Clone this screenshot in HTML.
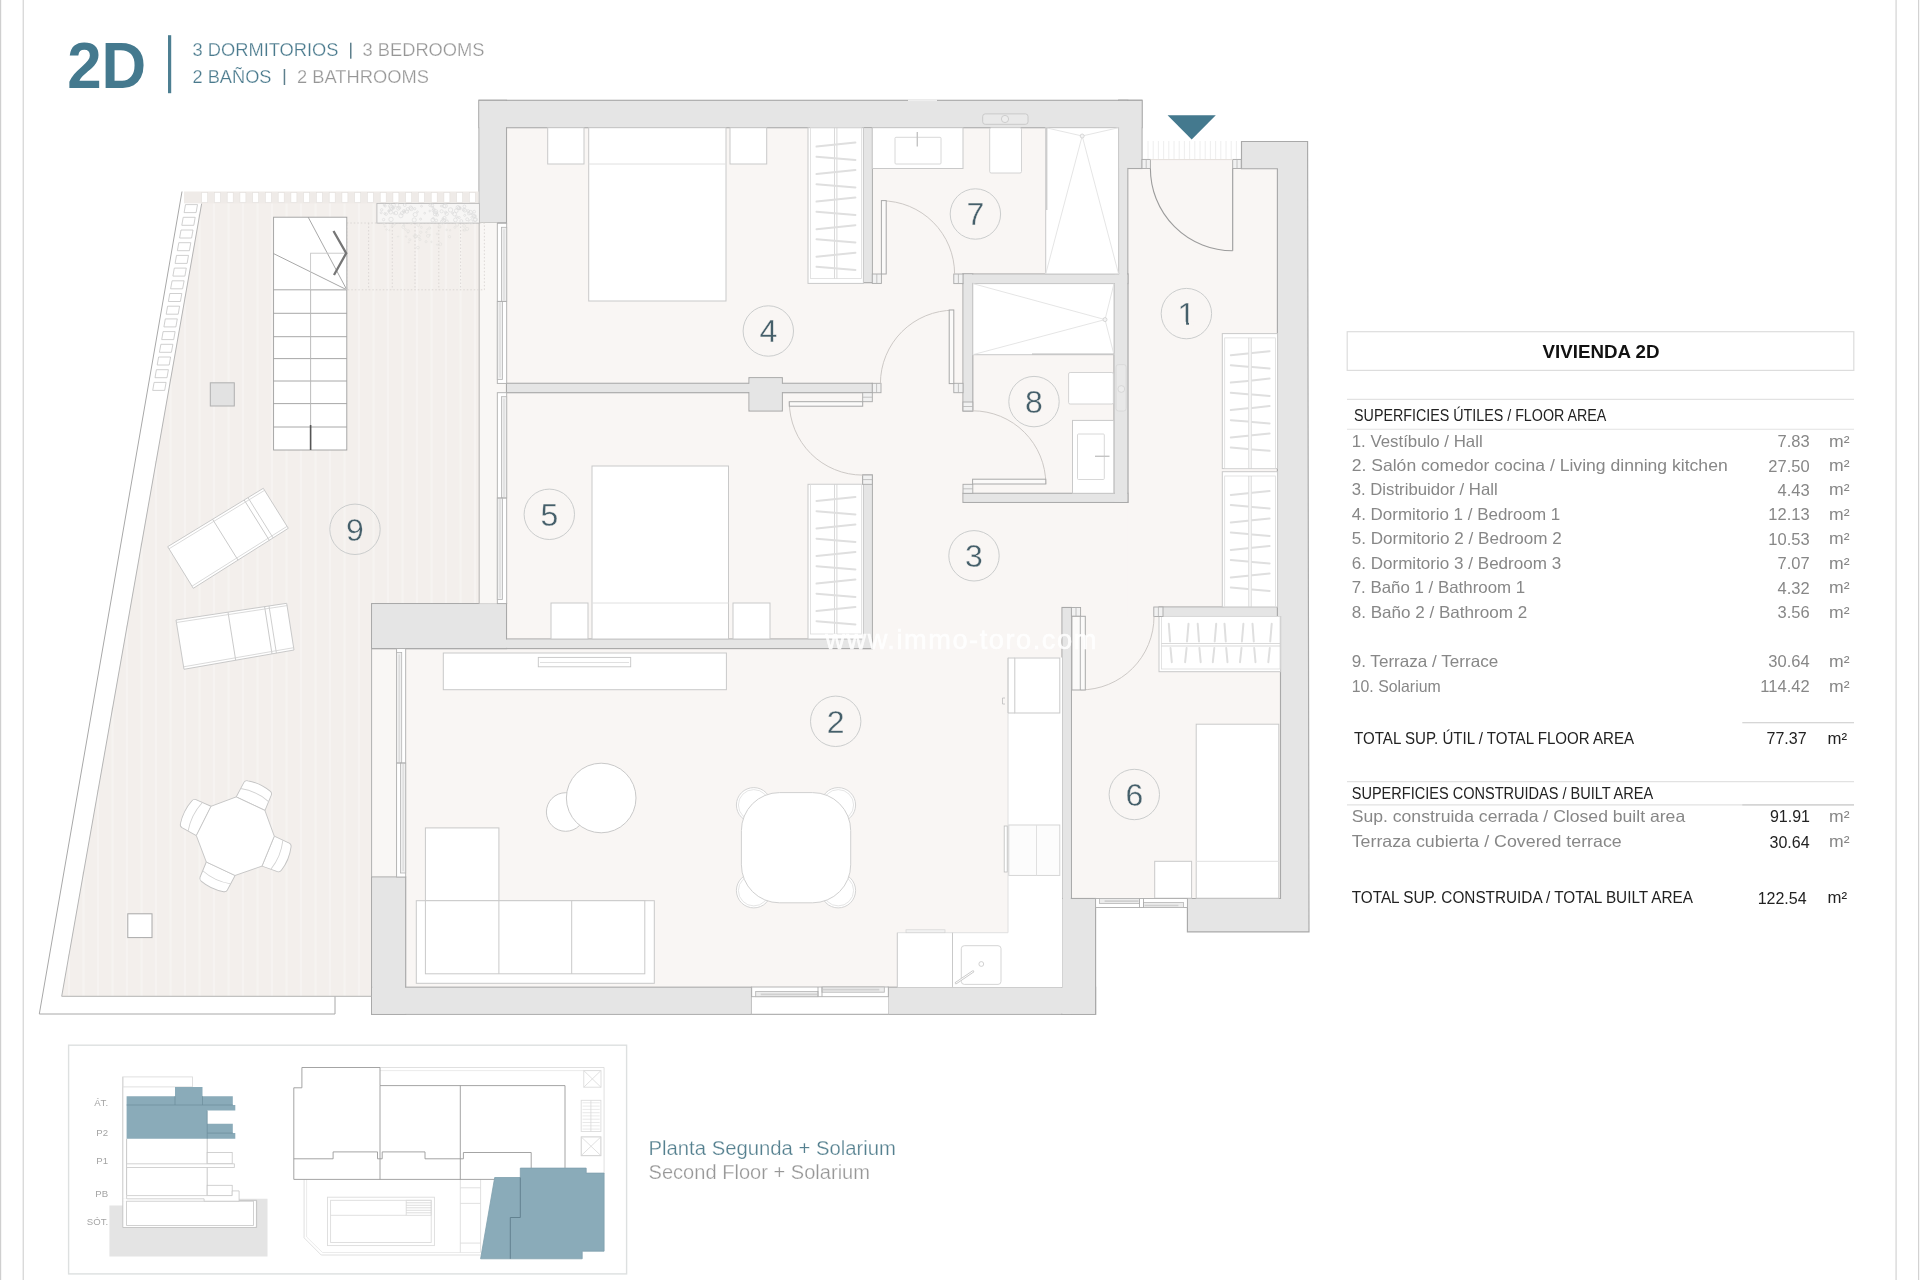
<!DOCTYPE html>
<html lang="es"><head><meta charset="utf-8"><title>Vivienda 2D</title>
<style>
html,body{margin:0;padding:0;background:#fff;}
body{width:1920px;height:1280px;overflow:hidden;font-family:"Liberation Sans",sans-serif;}
svg{display:block;position:absolute;left:0;top:0;}
#all{filter:opacity(1);}
svg text{font-family:"Liberation Sans",sans-serif;}
.w{fill:#e5e5e5;stroke:#a9a9a9;stroke-width:1.15;}
.wf{fill:#e5e5e5;stroke:none;}
.f{fill:#fff;stroke:#c9c9c9;stroke-width:1;}
.l{fill:none;stroke:#c9c9c9;stroke-width:1;}
.ll{fill:none;stroke:#e0e0e0;stroke-width:1;}
.d{fill:none;stroke:#cdc9c6;stroke-width:1;}
.dl{fill:#fbfaf9;stroke:#a9a9a9;stroke-width:1;}
.j{fill:#f1f1f1;stroke:#a9a9a9;stroke-width:0.9;}
.win{fill:#fbfbfb;stroke:#ababab;stroke-width:0.9;}
.hg{fill:none;stroke:#dfdfdf;stroke-width:2;stroke-linecap:round;}
.num{font-size:32px;fill:#455f6a;text-anchor:middle;stroke:#f7f4f2;stroke-width:0.35px;}
.nc{fill:none;stroke:#cbcdcd;stroke-width:1;}
.tg{font-size:16.5px;fill:#878787;}
.tb{font-size:16px;fill:#222;}
.tn{text-anchor:end;}
</style></head><body>
<svg width="1920" height="1280" viewBox="0 0 1920 1280">
<g id="all">

<g id="frame">
<rect x="0" y="0" width="1.2" height="1280" fill="#cfcfcf"/>
<rect x="22.6" y="0" width="1.3" height="1280" fill="#d6d6d6"/>
<rect x="1895.3" y="0" width="1.6" height="1280" fill="#dedede"/>
<rect x="1918" y="0" width="1.2" height="1280" fill="#d2d2d2"/>
</g>
<g id="header">
<text x="67.2" y="88.4" font-size="64" font-weight="bold" fill="#44798e" textLength="79" lengthAdjust="spacingAndGlyphs">2D</text>
<rect x="168" y="35.2" width="3.2" height="58" fill="#4d7f92"/>
<text x="192.5" y="56.4" font-size="18.2" fill="#4a7a8d" stroke="#fff" stroke-width="0.25" textLength="146" lengthAdjust="spacingAndGlyphs">3 DORMITORIOS</text>
<rect x="350" y="42.7" width="1.5" height="16" fill="#5d7f8c"/>
<text x="362.5" y="56.4" font-size="18.2" fill="#979797" stroke="#fff" stroke-width="0.25" textLength="122" lengthAdjust="spacingAndGlyphs">3 BEDROOMS</text>
<text x="192.5" y="82.6" font-size="18.2" fill="#4a7a8d" stroke="#fff" stroke-width="0.25" textLength="79" lengthAdjust="spacingAndGlyphs">2 BAÑOS</text>
<rect x="283.7" y="69" width="1.5" height="16" fill="#5d7f8c"/>
<text x="297" y="82.6" font-size="18.2" fill="#979797" stroke="#fff" stroke-width="0.25" textLength="132" lengthAdjust="spacingAndGlyphs">2 BATHROOMS</text>
</g>
<g id="floors">
<polygon points="201.7,201.7 479,201.7 479,222.7 497,222.7 497,603.6 371.6,603.6 371.6,996.3 61.7,996.3" fill="#f3efec"/>
<g stroke="#f6f3f1" stroke-width="2.2">
<line x1="69" y1="954.4" x2="69" y2="996.3" class=""/>
<line x1="83.5" y1="872.1" x2="83.5" y2="996.3" class=""/>
<line x1="98" y1="789.9" x2="98" y2="996.3" class=""/>
<line x1="112.5" y1="707.7" x2="112.5" y2="996.3" class=""/>
<line x1="127" y1="625.4" x2="127" y2="996.3" class=""/>
<line x1="141.5" y1="543.2" x2="141.5" y2="996.3" class=""/>
<line x1="156" y1="460.9" x2="156" y2="996.3" class=""/>
<line x1="170.5" y1="378.7" x2="170.5" y2="996.3" class=""/>
<line x1="185" y1="296.4" x2="185" y2="996.3" class=""/>
<line x1="199.5" y1="214.2" x2="199.5" y2="996.3" class=""/>
<line x1="214" y1="201.7" x2="214" y2="996.3" class=""/>
<line x1="228.5" y1="201.7" x2="228.5" y2="996.3" class=""/>
<line x1="243" y1="201.7" x2="243" y2="996.3" class=""/>
<line x1="257.5" y1="201.7" x2="257.5" y2="996.3" class=""/>
<line x1="272" y1="201.7" x2="272" y2="996.3" class=""/>
<line x1="286.5" y1="201.7" x2="286.5" y2="996.3" class=""/>
<line x1="301" y1="201.7" x2="301" y2="996.3" class=""/>
<line x1="315.5" y1="201.7" x2="315.5" y2="996.3" class=""/>
<line x1="330" y1="201.7" x2="330" y2="996.3" class=""/>
<line x1="344.5" y1="201.7" x2="344.5" y2="996.3" class=""/>
<line x1="359" y1="201.7" x2="359" y2="996.3" class=""/>
<line x1="373.5" y1="201.7" x2="373.5" y2="603.6" class=""/>
<line x1="388" y1="201.7" x2="388" y2="603.6" class=""/>
<line x1="402.5" y1="201.7" x2="402.5" y2="603.6" class=""/>
<line x1="417" y1="201.7" x2="417" y2="603.6" class=""/>
<line x1="431.5" y1="201.7" x2="431.5" y2="603.6" class=""/>
<line x1="446" y1="201.7" x2="446" y2="603.6" class=""/>
<line x1="460.5" y1="201.7" x2="460.5" y2="603.6" class=""/>
<line x1="475" y1="201.7" x2="475" y2="603.6" class=""/>
<line x1="489.5" y1="222.7" x2="489.5" y2="603.6" class=""/>
</g>
<rect x="506.5" y="127.7" width="612.1" height="520.9" fill="#f9f6f4"/>
<rect x="872" y="283" width="406" height="365.6" fill="#f9f6f4"/>
<rect x="1127.8" y="168.5" width="150.2" height="451.5" fill="#f9f6f4"/>
<rect x="1150" y="159.4" width="83" height="9.6" fill="#f9f6f4"/>
<rect x="405.7" y="648.6" width="656.3" height="338.6" fill="#f9f6f4"/>
<rect x="1071" y="616.5" width="210" height="282" fill="#f9f6f4"/>
<rect x="371.6" y="648.6" width="34.1" height="228.4" fill="#f9f7f5"/>
<rect x="497" y="222.7" width="9.5" height="380.9" fill="#f9f7f5"/>
</g>
<g id="walls">
<rect x="479" y="100.3" width="663" height="27.4" class="w"/>
<rect x="479" y="100.3" width="27.5" height="122.4" class="w"/>
<rect x="1118.6" y="100.3" width="23.4" height="68.2" class="w"/>
<rect x="1118.6" y="100.3" width="9.2" height="402.1" class="w"/>
<rect x="1114" y="274" width="13.8" height="228.4" class="w"/>
<rect x="963" y="274" width="164.8" height="9.6" class="w"/>
<rect x="963" y="274" width="9.8" height="137" class="w"/>
<rect x="963" y="493.3" width="164.8" height="9.1" class="w"/>
<rect x="862.7" y="127.7" width="9.6" height="155" class="w"/>
<rect x="506.5" y="383.3" width="365.8" height="9.4" class="w"/>
<rect x="749" y="377.7" width="33.3" height="33.3" class="w"/>
<rect x="862.7" y="475" width="9.6" height="173.6" class="w"/>
<rect x="371.6" y="639" width="500.7" height="9.6" class="w"/>
<rect x="371.6" y="603.6" width="134.9" height="45" class="w"/>
<rect x="371.6" y="877" width="34.1" height="137.3" class="w"/>
<rect x="371.6" y="987.2" width="379.8" height="27.1" class="w"/>
<rect x="888.2" y="987.2" width="207.4" height="27.1" class="w"/>
<rect x="1062" y="607.5" width="9.4" height="406.8" class="w"/>
<rect x="1062" y="898.5" width="33.6" height="115.8" class="w"/>
<rect x="1159" y="607" width="123" height="9.5" class="w"/>
<rect x="479.6" y="101" width="661.7" height="26.1" class="wf"/>
<rect x="479.6" y="101" width="26.2" height="121.1" class="wf"/>
<rect x="1119.2" y="101" width="22.1" height="66.9" class="wf"/>
<rect x="1119.2" y="101" width="7.9" height="400.8" class="wf"/>
<rect x="1114.7" y="274.6" width="12.5" height="227.1" class="wf"/>
<rect x="963.6" y="274.6" width="163.5" height="8.3" class="wf"/>
<rect x="963.6" y="274.6" width="8.5" height="135.7" class="wf"/>
<rect x="963.6" y="493.9" width="163.5" height="7.8" class="wf"/>
<rect x="863.4" y="128.3" width="8.3" height="153.7" class="wf"/>
<rect x="507.1" y="383.9" width="364.5" height="8.1" class="wf"/>
<rect x="749.6" y="378.3" width="32" height="32" class="wf"/>
<rect x="863.4" y="475.6" width="8.3" height="172.3" class="wf"/>
<rect x="372.2" y="639.6" width="499.4" height="8.3" class="wf"/>
<rect x="372.2" y="604.2" width="133.6" height="43.7" class="wf"/>
<rect x="372.2" y="877.6" width="32.8" height="136" class="wf"/>
<rect x="372.2" y="987.9" width="378.5" height="25.8" class="wf"/>
<rect x="888.9" y="987.9" width="206.1" height="25.8" class="wf"/>
<rect x="1062.7" y="608.1" width="8.1" height="405.5" class="wf"/>
<rect x="1062.7" y="899.1" width="32.3" height="114.5" class="wf"/>
<rect x="1159.7" y="607.6" width="121.7" height="8.2" class="wf"/>
<line x1="908" y1="100.3" x2="937" y2="100.3" class="" stroke="#eeeeee" stroke-width="1.6"/>
<polygon points="1241.5,141.5 1307.6,141.5 1309,931.8 1187.4,931.8 1187.4,898.5 1280.5,898.5 1280.5,616.5 1277.4,616.5 1277.4,168.7 1241.5,168.7" class="w"/>
</g>
<g id="terrace">
<path d="M182,191.5 L39.3,1014 L335,1014 L335,996.3" fill="none" stroke="#a8a8a8" stroke-width="1"/>
<path d="M201.7,203.4 L61.7,996.3 L371.6,996.3" fill="none" stroke="#b5b5b5" stroke-width="1"/>
<rect x="479.4" y="222.7" width="18" height="380.9" fill="#f9f7f5"/>
<line x1="479.2" y1="222.7" x2="479.2" y2="603.6" class="" stroke="#c2bfbd" stroke-width="1.2"/>
<rect x="184" y="191.5" width="294.6" height="11.9" fill="#efebe8"/>
<rect x="201.7" y="192.6" width="6" height="9.8" fill="#fff" stroke="#e3dfdc" stroke-width="0.6"/>
<rect x="214.4" y="192.6" width="6" height="9.8" fill="#fff" stroke="#e3dfdc" stroke-width="0.6"/>
<rect x="227.2" y="192.6" width="6" height="9.8" fill="#fff" stroke="#e3dfdc" stroke-width="0.6"/>
<rect x="239.9" y="192.6" width="6" height="9.8" fill="#fff" stroke="#e3dfdc" stroke-width="0.6"/>
<rect x="252.7" y="192.6" width="6" height="9.8" fill="#fff" stroke="#e3dfdc" stroke-width="0.6"/>
<rect x="265.4" y="192.6" width="6" height="9.8" fill="#fff" stroke="#e3dfdc" stroke-width="0.6"/>
<rect x="278.2" y="192.6" width="6" height="9.8" fill="#fff" stroke="#e3dfdc" stroke-width="0.6"/>
<rect x="290.9" y="192.6" width="6" height="9.8" fill="#fff" stroke="#e3dfdc" stroke-width="0.6"/>
<rect x="303.7" y="192.6" width="6" height="9.8" fill="#fff" stroke="#e3dfdc" stroke-width="0.6"/>
<rect x="316.4" y="192.6" width="6" height="9.8" fill="#fff" stroke="#e3dfdc" stroke-width="0.6"/>
<rect x="329.2" y="192.6" width="6" height="9.8" fill="#fff" stroke="#e3dfdc" stroke-width="0.6"/>
<rect x="341.9" y="192.6" width="6" height="9.8" fill="#fff" stroke="#e3dfdc" stroke-width="0.6"/>
<rect x="354.7" y="192.6" width="6" height="9.8" fill="#fff" stroke="#e3dfdc" stroke-width="0.6"/>
<rect x="367.4" y="192.6" width="6" height="9.8" fill="#fff" stroke="#e3dfdc" stroke-width="0.6"/>
<rect x="380.2" y="192.6" width="6" height="9.8" fill="#fff" stroke="#e3dfdc" stroke-width="0.6"/>
<rect x="392.9" y="192.6" width="6" height="9.8" fill="#fff" stroke="#e3dfdc" stroke-width="0.6"/>
<rect x="405.7" y="192.6" width="6" height="9.8" fill="#fff" stroke="#e3dfdc" stroke-width="0.6"/>
<rect x="418.4" y="192.6" width="6" height="9.8" fill="#fff" stroke="#e3dfdc" stroke-width="0.6"/>
<rect x="431.2" y="192.6" width="6" height="9.8" fill="#fff" stroke="#e3dfdc" stroke-width="0.6"/>
<rect x="443.9" y="192.6" width="6" height="9.8" fill="#fff" stroke="#e3dfdc" stroke-width="0.6"/>
<rect x="456.7" y="192.6" width="6" height="9.8" fill="#fff" stroke="#e3dfdc" stroke-width="0.6"/>
<rect x="469.4" y="192.6" width="6" height="9.8" fill="#fff" stroke="#e3dfdc" stroke-width="0.6"/>
<polygon points="185.5,204.6 197.5,204.6 196.1,212.6 184.1,212.6" fill="#fff" stroke="#c4c4c4" stroke-width="0.8"/>
<polygon points="183.2,217.3 195.2,217.3 193.8,225.3 181.8,225.3" fill="#fff" stroke="#c4c4c4" stroke-width="0.8"/>
<polygon points="181,230 193,230 191.6,238 179.6,238" fill="#fff" stroke="#c4c4c4" stroke-width="0.8"/>
<polygon points="178.8,242.7 190.8,242.7 189.4,250.7 177.4,250.7" fill="#fff" stroke="#c4c4c4" stroke-width="0.8"/>
<polygon points="176.5,255.4 188.5,255.4 187.1,263.4 175.1,263.4" fill="#fff" stroke="#c4c4c4" stroke-width="0.8"/>
<polygon points="174.3,268.1 186.3,268.1 184.9,276.1 172.9,276.1" fill="#fff" stroke="#c4c4c4" stroke-width="0.8"/>
<polygon points="172.1,280.8 184.1,280.8 182.6,288.8 170.6,288.8" fill="#fff" stroke="#c4c4c4" stroke-width="0.8"/>
<polygon points="169.8,293.5 181.8,293.5 180.4,301.5 168.4,301.5" fill="#fff" stroke="#c4c4c4" stroke-width="0.8"/>
<polygon points="167.6,306.2 179.6,306.2 178.2,314.2 166.2,314.2" fill="#fff" stroke="#c4c4c4" stroke-width="0.8"/>
<polygon points="165.3,318.9 177.3,318.9 175.9,326.9 163.9,326.9" fill="#fff" stroke="#c4c4c4" stroke-width="0.8"/>
<polygon points="163.1,331.6 175.1,331.6 173.7,339.6 161.7,339.6" fill="#fff" stroke="#c4c4c4" stroke-width="0.8"/>
<polygon points="160.9,344.3 172.9,344.3 171.4,352.3 159.4,352.3" fill="#fff" stroke="#c4c4c4" stroke-width="0.8"/>
<polygon points="158.6,357 170.6,357 169.2,365 157.2,365" fill="#fff" stroke="#c4c4c4" stroke-width="0.8"/>
<polygon points="156.4,369.7 168.4,369.7 167,377.7 155,377.7" fill="#fff" stroke="#c4c4c4" stroke-width="0.8"/>
<polygon points="154.1,382.4 166.1,382.4 164.7,390.4 152.7,390.4" fill="#fff" stroke="#c4c4c4" stroke-width="0.8"/>
<g stroke="#d9d5d2" stroke-width="0.9" stroke-dasharray="1.5 2" fill="none">
<rect x="346.8" y="223" width="137.6" height="66.8"/>
<line x1="368.6" y1="223" x2="368.6" y2="289.8" class=""/>
<line x1="392.3" y1="223" x2="392.3" y2="289.8" class=""/>
<line x1="415" y1="223" x2="415" y2="289.8" class=""/>
<line x1="438.8" y1="223" x2="438.8" y2="289.8" class=""/>
<line x1="460.6" y1="223" x2="460.6" y2="289.8" class=""/>
</g>
<rect x="376.9" y="203.4" width="102.5" height="19.7" fill="#f7f6f5" stroke="#bbbbbb" stroke-width="0.9"/>
<g fill="none" stroke="#dddddd" stroke-width="0.7">
<circle cx="410.7" cy="207.6" r="1.7"/>
<circle cx="386.1" cy="214.1" r="1.3"/>
<circle cx="384.7" cy="213.6" r="0.9"/>
<circle cx="421.5" cy="206.2" r="0.9"/>
<circle cx="420.6" cy="219.1" r="1"/>
<circle cx="400.9" cy="215.7" r="2.1"/>
<circle cx="435.6" cy="211.7" r="2.2"/>
<circle cx="383.6" cy="219.6" r="1.2"/>
<circle cx="393.1" cy="207" r="1.2"/>
<circle cx="459" cy="208.1" r="1.6"/>
<circle cx="441.6" cy="211.3" r="1.6"/>
<circle cx="385.2" cy="206" r="1.1"/>
<circle cx="445.7" cy="212.3" r="1.2"/>
<circle cx="436.4" cy="212.7" r="1.2"/>
<circle cx="456.8" cy="216.9" r="1.1"/>
<circle cx="435.3" cy="213.9" r="2"/>
<circle cx="450.5" cy="209.9" r="2.2"/>
<circle cx="390.6" cy="212.1" r="1.9"/>
<circle cx="393.9" cy="213.3" r="0.9"/>
<circle cx="444.5" cy="218" r="1.6"/>
<circle cx="464.8" cy="210.3" r="1.8"/>
<circle cx="437.2" cy="214.9" r="1.4"/>
<circle cx="461.3" cy="221.1" r="1.5"/>
<circle cx="444.1" cy="206" r="1.8"/>
<circle cx="442.4" cy="221.9" r="2"/>
<circle cx="406.9" cy="211.6" r="1.7"/>
<circle cx="381.2" cy="212.8" r="1"/>
<circle cx="390.5" cy="206" r="1.9"/>
<circle cx="391.7" cy="209.2" r="1.3"/>
<circle cx="464.4" cy="206.4" r="1.4"/>
<circle cx="432.8" cy="220" r="1.9"/>
<circle cx="463.7" cy="209.7" r="1.4"/>
<circle cx="414.2" cy="220" r="2.1"/>
<circle cx="393.8" cy="208" r="1.1"/>
<circle cx="401.9" cy="213.2" r="1.6"/>
<circle cx="404.7" cy="205.1" r="1.4"/>
<circle cx="415.2" cy="214.6" r="2.1"/>
<circle cx="446.7" cy="213.8" r="1.7"/>
<circle cx="445.3" cy="205.9" r="2.1"/>
<circle cx="455.4" cy="219.9" r="1.9"/>
<circle cx="417.5" cy="211.8" r="0.9"/>
<circle cx="441.2" cy="206.1" r="0.9"/>
<circle cx="399.5" cy="207.8" r="1.3"/>
<circle cx="384.2" cy="205" r="1"/>
<circle cx="388.9" cy="211.2" r="0.8"/>
<circle cx="464.7" cy="215.4" r="1"/>
<circle cx="403.7" cy="210.9" r="1.3"/>
<circle cx="391" cy="219.4" r="2.2"/>
<circle cx="424.7" cy="213.2" r="0.9"/>
<circle cx="389" cy="210.8" r="1.2"/>
<circle cx="460.2" cy="207.7" r="0.8"/>
<circle cx="472.2" cy="214" r="1"/>
<circle cx="432.2" cy="205.5" r="1.5"/>
<circle cx="474.9" cy="219.7" r="1.8"/>
<circle cx="404.6" cy="211.2" r="1"/>
<circle cx="454.6" cy="214.1" r="1.9"/>
<circle cx="411.3" cy="208.8" r="1.9"/>
<circle cx="475.5" cy="219.5" r="1.9"/>
<circle cx="459.2" cy="217.6" r="1.1"/>
<circle cx="429.7" cy="211" r="0.8"/>
<circle cx="381.7" cy="209.8" r="1.2"/>
<circle cx="446.9" cy="221.3" r="1.4"/>
<circle cx="470.8" cy="221.8" r="2.1"/>
<circle cx="414.7" cy="208.7" r="1.1"/>
<circle cx="398.3" cy="208.5" r="1.7"/>
<circle cx="467.2" cy="219.3" r="1.5"/>
<circle cx="443" cy="218.6" r="0.9"/>
<circle cx="443.7" cy="220.5" r="1.9"/>
<circle cx="452.5" cy="213.1" r="1"/>
<circle cx="456.3" cy="210.7" r="1.9"/>
<circle cx="474.2" cy="211.7" r="1.4"/>
<circle cx="471.8" cy="217.3" r="1"/>
<circle cx="391.4" cy="207.6" r="2.1"/>
<circle cx="458" cy="207.5" r="2"/>
<circle cx="475.1" cy="216.2" r="1.3"/>
<circle cx="432.8" cy="207.2" r="0.8"/>
<circle cx="474.1" cy="216" r="1.5"/>
<circle cx="470.5" cy="212.4" r="2"/>
<circle cx="460" cy="208.6" r="1.2"/>
<circle cx="407.7" cy="209.1" r="1.6"/>
<circle cx="404.4" cy="212.1" r="1"/>
<circle cx="468.2" cy="211" r="1.4"/>
<circle cx="436.2" cy="220.4" r="1.4"/>
<circle cx="468.9" cy="213.5" r="1.5"/>
<circle cx="430.3" cy="205.3" r="1.4"/>
<circle cx="396.9" cy="205.1" r="1.9"/>
<circle cx="395.9" cy="213" r="1.8"/>
<circle cx="433.5" cy="210.5" r="1.5"/>
<circle cx="433.4" cy="218.3" r="0.9"/>
<circle cx="433.9" cy="209.2" r="1.2"/>
<circle cx="449.5" cy="236.7" r="1.2" stroke="#e4e2e0"/>
<circle cx="419.9" cy="239.5" r="1.1" stroke="#e4e2e0"/>
<circle cx="426.1" cy="241.7" r="1.1" stroke="#e4e2e0"/>
<circle cx="428" cy="235.9" r="1.5" stroke="#e4e2e0"/>
<circle cx="464.8" cy="230" r="1.2" stroke="#e4e2e0"/>
<circle cx="392.3" cy="226.3" r="1" stroke="#e4e2e0"/>
<circle cx="386.5" cy="229.5" r="0.7" stroke="#e4e2e0"/>
<circle cx="440.3" cy="244.2" r="1.5" stroke="#e4e2e0"/>
<circle cx="439.4" cy="226.9" r="1.5" stroke="#e4e2e0"/>
<circle cx="467.1" cy="228.9" r="1.6" stroke="#e4e2e0"/>
<circle cx="415.8" cy="236.2" r="1.6" stroke="#e4e2e0"/>
<circle cx="454.9" cy="227.4" r="1" stroke="#e4e2e0"/>
<circle cx="426.4" cy="232.2" r="0.8" stroke="#e4e2e0"/>
<circle cx="408.7" cy="242.5" r="0.6" stroke="#e4e2e0"/>
<circle cx="429.9" cy="234.9" r="0.6" stroke="#e4e2e0"/>
<circle cx="409.8" cy="239.8" r="1.1" stroke="#e4e2e0"/>
<circle cx="389.4" cy="230.2" r="0.6" stroke="#e4e2e0"/>
<circle cx="450.1" cy="230.3" r="0.7" stroke="#e4e2e0"/>
<circle cx="418" cy="247.6" r="1.4" stroke="#e4e2e0"/>
<circle cx="403.3" cy="227" r="1.5" stroke="#e4e2e0"/>
<circle cx="431.4" cy="241.9" r="0.7" stroke="#e4e2e0"/>
<circle cx="418.3" cy="225" r="1.5" stroke="#e4e2e0"/>
<circle cx="437.1" cy="244.6" r="0.7" stroke="#e4e2e0"/>
<circle cx="457.1" cy="224.8" r="1.5" stroke="#e4e2e0"/>
<circle cx="420.8" cy="232.2" r="1.2" stroke="#e4e2e0"/>
<circle cx="463.4" cy="230.2" r="0.7" stroke="#e4e2e0"/>
<circle cx="427.4" cy="229.4" r="0.7" stroke="#e4e2e0"/>
<circle cx="394.5" cy="224.4" r="0.8" stroke="#e4e2e0"/>
<circle cx="408.1" cy="231.2" r="1.4" stroke="#e4e2e0"/>
<circle cx="406.1" cy="236.5" r="0.8" stroke="#e4e2e0"/>
<circle cx="411.2" cy="223.5" r="0.9" stroke="#e4e2e0"/>
<circle cx="429.6" cy="228.1" r="1.1" stroke="#e4e2e0"/>
<circle cx="464.1" cy="225.9" r="1.4" stroke="#e4e2e0"/>
<circle cx="418.9" cy="236.4" r="1.4" stroke="#e4e2e0"/>
<circle cx="415.4" cy="236.7" r="1.3" stroke="#e4e2e0"/>
<circle cx="437.2" cy="233.9" r="0.9" stroke="#e4e2e0"/>
<circle cx="384.9" cy="226.5" r="0.7" stroke="#e4e2e0"/>
<circle cx="446.7" cy="229.9" r="0.8" stroke="#e4e2e0"/>
<circle cx="405.4" cy="229.5" r="0.9" stroke="#e4e2e0"/>
<circle cx="421.4" cy="227.3" r="1" stroke="#e4e2e0"/>
<circle cx="407.9" cy="232.6" r="0.6" stroke="#e4e2e0"/>
<circle cx="414.3" cy="235.8" r="1.1" stroke="#e4e2e0"/>
<circle cx="398.1" cy="236.6" r="0.6" stroke="#e4e2e0"/>
<circle cx="403.8" cy="225.4" r="1" stroke="#e4e2e0"/>
<circle cx="383.8" cy="223.6" r="0.9" stroke="#e4e2e0"/>
</g>
<g fill="none" stroke="#9e9e9e" stroke-width="0.9">
<rect x="273.6" y="217.2" width="73.2" height="232.8" fill="#fff"/>
<line x1="273.6" y1="289.8" x2="346.8" y2="289.8" class=""/>
<line x1="273.6" y1="313.3" x2="346.8" y2="313.3" class=""/>
<line x1="273.6" y1="336.7" x2="346.8" y2="336.7" class=""/>
<line x1="273.6" y1="358.6" x2="346.8" y2="358.6" class=""/>
<line x1="273.6" y1="381" x2="346.8" y2="381" class=""/>
<line x1="273.6" y1="403.6" x2="346.8" y2="403.6" class=""/>
<line x1="273.6" y1="427" x2="346.8" y2="427" class=""/>
<line x1="346.8" y1="289.8" x2="273.6" y2="253.6" class=""/>
<line x1="346.8" y1="289.8" x2="308.2" y2="217.2" class=""/>
</g>
<rect x="310.6" y="253.2" width="36.2" height="36.6" fill="none" stroke="#c6c6c6" stroke-width="0.9"/>
<line x1="310.6" y1="289.8" x2="310.6" y2="450" class="" stroke="#b5b5b5" stroke-width="0.9"/>
<path d="M333.5,231 L346.2,253.2 L334,275" fill="none" stroke="#767676" stroke-width="2.3" stroke-linejoin="miter"/>
<line x1="310.6" y1="425" x2="310.6" y2="450" class="" stroke="#555" stroke-width="1.6"/>
<rect x="210.3" y="382.8" width="24" height="23.2" fill="#e2e2e2" stroke="#b0b0b0" stroke-width="1"/>
<rect x="127.8" y="913.8" width="24.2" height="23.8" fill="#fff" stroke="#a9a9a9" stroke-width="1"/>
<polygon points="167.7,546.7 263.3,488.3 288.3,528.3 193.3,588.3" fill="#fff" stroke="#c9c9c9" stroke-width="1"/>
<line x1="212.6" y1="519.3" x2="238" y2="560.1" class="" stroke="#c4c4c4" stroke-width="0.9"/>
<line x1="244.2" y1="500" x2="269.3" y2="540.3" class="" stroke="#c4c4c4" stroke-width="0.9"/>
<line x1="248" y1="497.6" x2="273.1" y2="537.9" class="" stroke="#c9c9c9" stroke-width="0.9"/>
<line x1="169" y1="548.8" x2="264.6" y2="490.3" class="" stroke="#d0d0d0" stroke-width="0.8"/>
<line x1="192" y1="586.2" x2="287.1" y2="526.3" class="" stroke="#d0d0d0" stroke-width="0.8"/>
<polygon points="176,620 286.7,603.3 294,650 184,669.3" fill="#fff" stroke="#c9c9c9" stroke-width="1"/>
<line x1="228" y1="612.2" x2="235.7" y2="660.2" class="" stroke="#c4c4c4" stroke-width="0.9"/>
<line x1="264.6" y1="606.6" x2="272" y2="653.9" class="" stroke="#c4c4c4" stroke-width="0.9"/>
<line x1="269" y1="606" x2="276.4" y2="653.1" class="" stroke="#c9c9c9" stroke-width="0.9"/>
<line x1="176.4" y1="622.5" x2="287.1" y2="605.6" class="" stroke="#d0d0d0" stroke-width="0.8"/>
<line x1="183.6" y1="666.8" x2="293.6" y2="647.7" class="" stroke="#d0d0d0" stroke-width="0.8"/>
<g transform="translate(250.6 803.7) rotate(25.1)">
<path d="M-15.9,0 L-15.1,-16.5 Q-14.9,-19 -12.4,-19.6 Q0,-23 12.4,-19.6 Q14.9,-19 15.1,-16.5 L15.9,0 Z" fill="#fff" stroke="#c3c3c3" stroke-width="0.9"/>
<path d="M-15.4,-9.5 Q0,-14 15.4,-9.5" fill="none" stroke="#d2d2d2" stroke-width="0.9"/>
</g>
<g transform="translate(268.1 851.1) rotate(112.4)">
<path d="M-16.2,0 L-15.4,-16.5 Q-15.2,-19 -12.7,-19.6 Q0,-23 12.7,-19.6 Q15.2,-19 15.4,-16.5 L16.2,0 Z" fill="#fff" stroke="#c3c3c3" stroke-width="0.9"/>
<path d="M-15.7,-9.5 Q0,-14 15.7,-9.5" fill="none" stroke="#d2d2d2" stroke-width="0.9"/>
</g>
<g transform="translate(220.7 868.7) rotate(-154.9)">
<path d="M-15.9,0 L-15.1,-16.5 Q-14.9,-19 -12.4,-19.6 Q0,-23 12.4,-19.6 Q14.9,-19 15.1,-16.5 L15.9,0 Z" fill="#fff" stroke="#c3c3c3" stroke-width="0.9"/>
<path d="M-15.4,-9.5 Q0,-14 15.4,-9.5" fill="none" stroke="#d2d2d2" stroke-width="0.9"/>
</g>
<g transform="translate(203.7 821) rotate(-63.4)">
<path d="M-16.4,0 L-15.6,-16.5 Q-15.4,-19 -12.9,-19.6 Q0,-23 12.9,-19.6 Q15.4,-19 15.6,-16.5 L16.4,0 Z" fill="#fff" stroke="#c3c3c3" stroke-width="0.9"/>
<path d="M-15.9,-9.5 Q0,-14 15.9,-9.5" fill="none" stroke="#d2d2d2" stroke-width="0.9"/>
</g>
<polygon points="211,806.3 236.2,796.9 264.9,810.4 274.3,836.2 262,866.1 235,875.5 206.3,862 196.3,835.6" fill="#fff" stroke="#c8c8c8" stroke-width="1"/>
</g>
<g id="interior">
<rect x="547.7" y="127.7" width="36.3" height="36.3" class="f"/>
<rect x="730" y="127.7" width="36.7" height="36.3" class="f"/>
<rect x="588.7" y="127.7" width="137.3" height="173.3" class="f"/>
<line x1="588.7" y1="164" x2="726" y2="164" class="ll"/>
<rect x="808" y="127.7" width="55.4" height="155.7" class="f"/>
<rect x="810.4" y="127.7" width="51" height="150.7" fill="none" stroke="#dcdcdc" stroke-width="0.8"/>
<line x1="834.5" y1="127.7" x2="834.5" y2="278.4" class="" stroke="#cfcfcf" stroke-width="0.8"/>
<line x1="836.9" y1="127.7" x2="836.9" y2="278.4" class="" stroke="#cfcfcf" stroke-width="0.8"/>
<g class="hg">
<line x1="816.5" y1="146.6" x2="855.4" y2="142.6" class=""/>
<line x1="816.5" y1="156.8" x2="855.4" y2="160" class=""/>
<line x1="816.5" y1="174.1" x2="855.4" y2="170.1" class=""/>
<line x1="816.5" y1="184.3" x2="855.4" y2="187.5" class=""/>
<line x1="816.5" y1="201.6" x2="855.4" y2="197.6" class=""/>
<line x1="816.5" y1="211.8" x2="855.4" y2="215" class=""/>
<line x1="816.5" y1="229.2" x2="855.4" y2="225.2" class=""/>
<line x1="816.5" y1="239.3" x2="855.4" y2="242.5" class=""/>
<line x1="816.5" y1="256.7" x2="855.4" y2="252.7" class=""/>
<line x1="816.5" y1="266.8" x2="855.4" y2="270" class=""/>
</g>
<rect x="592" y="466" width="136.5" height="173" class="f"/>
<line x1="592" y1="603" x2="728.5" y2="603" class="ll"/>
<rect x="551" y="603" width="37" height="36" class="f"/>
<rect x="733" y="603" width="37" height="36" class="f"/>
<rect x="808" y="484.3" width="55.4" height="154.7" class="f"/>
<rect x="810.4" y="484.3" width="51" height="149.7" fill="none" stroke="#dcdcdc" stroke-width="0.8"/>
<line x1="834.5" y1="484.3" x2="834.5" y2="634" class="" stroke="#cfcfcf" stroke-width="0.8"/>
<line x1="836.9" y1="484.3" x2="836.9" y2="634" class="" stroke="#cfcfcf" stroke-width="0.8"/>
<g class="hg">
<line x1="816.5" y1="501" x2="855.4" y2="497" class=""/>
<line x1="816.5" y1="511.2" x2="855.4" y2="514.4" class=""/>
<line x1="816.5" y1="528.5" x2="855.4" y2="524.5" class=""/>
<line x1="816.5" y1="538.7" x2="855.4" y2="541.9" class=""/>
<line x1="816.5" y1="556" x2="855.4" y2="552" class=""/>
<line x1="816.5" y1="566.2" x2="855.4" y2="569.4" class=""/>
<line x1="816.5" y1="583.6" x2="855.4" y2="579.6" class=""/>
<line x1="816.5" y1="593.7" x2="855.4" y2="596.9" class=""/>
<line x1="816.5" y1="611.1" x2="855.4" y2="607.1" class=""/>
<line x1="816.5" y1="621.2" x2="855.4" y2="624.4" class=""/>
</g>
<rect x="1222.3" y="333.6" width="55.3" height="135" class="f"/>
<rect x="1224.7" y="337.9" width="50.9" height="130.7" fill="none" stroke="#dcdcdc" stroke-width="0.8"/>
<line x1="1248.8" y1="337.9" x2="1248.8" y2="468.6" class="" stroke="#cfcfcf" stroke-width="0.8"/>
<line x1="1251.2" y1="337.9" x2="1251.2" y2="468.6" class="" stroke="#cfcfcf" stroke-width="0.8"/>
<g class="hg">
<line x1="1230.8" y1="355.2" x2="1247.8" y2="353.4" class=""/>
<line x1="1252.2" y1="353" x2="1269.6" y2="351.2" class=""/>
<line x1="1230.8" y1="365.3" x2="1247.8" y2="366.7" class=""/>
<line x1="1252.2" y1="367.1" x2="1269.6" y2="368.5" class=""/>
<line x1="1230.8" y1="382.6" x2="1247.8" y2="380.9" class=""/>
<line x1="1252.2" y1="380.4" x2="1269.6" y2="378.6" class=""/>
<line x1="1230.8" y1="392.8" x2="1247.8" y2="394.2" class=""/>
<line x1="1252.2" y1="394.5" x2="1269.6" y2="396" class=""/>
<line x1="1230.8" y1="410.1" x2="1247.8" y2="408.3" class=""/>
<line x1="1252.2" y1="407.9" x2="1269.6" y2="406.1" class=""/>
<line x1="1230.8" y1="420.2" x2="1247.8" y2="421.6" class=""/>
<line x1="1252.2" y1="422" x2="1269.6" y2="423.4" class=""/>
<line x1="1230.8" y1="437.5" x2="1247.8" y2="435.8" class=""/>
<line x1="1252.2" y1="435.3" x2="1269.6" y2="433.5" class=""/>
<line x1="1230.8" y1="447.6" x2="1247.8" y2="449" class=""/>
<line x1="1252.2" y1="449.4" x2="1269.6" y2="450.8" class=""/>
</g>
<rect x="1222.3" y="471.7" width="55.3" height="135.3" class="f"/>
<rect x="1224.7" y="476" width="50.9" height="131" fill="none" stroke="#dcdcdc" stroke-width="0.8"/>
<line x1="1248.8" y1="476" x2="1248.8" y2="607" class="" stroke="#cfcfcf" stroke-width="0.8"/>
<line x1="1251.2" y1="476" x2="1251.2" y2="607" class="" stroke="#cfcfcf" stroke-width="0.8"/>
<g class="hg">
<line x1="1230.8" y1="495" x2="1247.8" y2="493.2" class=""/>
<line x1="1252.2" y1="492.8" x2="1269.6" y2="491" class=""/>
<line x1="1230.8" y1="505.1" x2="1247.8" y2="506.6" class=""/>
<line x1="1252.2" y1="506.9" x2="1269.6" y2="508.4" class=""/>
<line x1="1230.8" y1="522.5" x2="1247.8" y2="520.7" class=""/>
<line x1="1252.2" y1="520.3" x2="1269.6" y2="518.5" class=""/>
<line x1="1230.8" y1="532.6" x2="1247.8" y2="534.1" class=""/>
<line x1="1252.2" y1="534.4" x2="1269.6" y2="535.9" class=""/>
<line x1="1230.8" y1="550" x2="1247.8" y2="548.2" class=""/>
<line x1="1252.2" y1="547.8" x2="1269.6" y2="546" class=""/>
<line x1="1230.8" y1="560.1" x2="1247.8" y2="561.6" class=""/>
<line x1="1252.2" y1="561.9" x2="1269.6" y2="563.4" class=""/>
<line x1="1230.8" y1="577.5" x2="1247.8" y2="575.7" class=""/>
<line x1="1252.2" y1="575.3" x2="1269.6" y2="573.5" class=""/>
<line x1="1230.8" y1="587.6" x2="1247.8" y2="589.1" class=""/>
<line x1="1252.2" y1="589.4" x2="1269.6" y2="590.9" class=""/>
</g>
<rect x="1159" y="616.5" width="121.6" height="55.2" class="f"/>
<rect x="1161.5" y="616.5" width="118.5" height="52.5" fill="none" stroke="#dcdcdc" stroke-width="0.8"/>
<line x1="1161.5" y1="643.5" x2="1280" y2="643.5" class="" stroke="#cfcfcf" stroke-width="0.8"/>
<line x1="1161.5" y1="646" x2="1280" y2="646" class="" stroke="#cfcfcf" stroke-width="0.8"/>
<g class="hg">
<line x1="1168.8" y1="623.8" x2="1170.1" y2="641.5" class=""/>
<line x1="1170.5" y1="648" x2="1171.8" y2="662.2" class=""/>
<line x1="1188.5" y1="623.8" x2="1187" y2="641.5" class=""/>
<line x1="1186.6" y1="648" x2="1185.1" y2="662.2" class=""/>
<line x1="1197.7" y1="623.8" x2="1199" y2="641.5" class=""/>
<line x1="1199.4" y1="648" x2="1200.7" y2="662.2" class=""/>
<line x1="1216.2" y1="623.8" x2="1214.7" y2="641.5" class=""/>
<line x1="1214.3" y1="648" x2="1212.8" y2="662.2" class=""/>
<line x1="1224.5" y1="623.8" x2="1225.8" y2="641.5" class=""/>
<line x1="1226.2" y1="648" x2="1227.5" y2="662.2" class=""/>
<line x1="1243.4" y1="623.8" x2="1241.9" y2="641.5" class=""/>
<line x1="1241.5" y1="648" x2="1240" y2="662.2" class=""/>
<line x1="1252.5" y1="623.8" x2="1253.8" y2="641.5" class=""/>
<line x1="1254.2" y1="648" x2="1255.5" y2="662.2" class=""/>
<line x1="1271.7" y1="623.8" x2="1270.2" y2="641.5" class=""/>
<line x1="1269.8" y1="648" x2="1268.3" y2="662.2" class=""/>
</g>
<rect x="1196.2" y="724.2" width="82.6" height="174" class="f"/>
<line x1="1196.2" y1="861.3" x2="1278.8" y2="861.3" class="ll"/>
<rect x="1154.7" y="861.3" width="36.9" height="36.9" class="f"/>
<rect x="872.3" y="127.7" width="90.7" height="40.8" class="f"/>
<rect x="895" y="137.3" width="46" height="26.7" fill="#fff" stroke="#d4d4d4" stroke-width="0.9" rx="1"/>
<line x1="917.3" y1="132" x2="917.3" y2="146.4" class="" stroke="#c4c4c4" stroke-width="1.4"/>
<rect x="982.7" y="113.9" width="45.3" height="10.4" fill="#e9e9e9" stroke="#c6c6c6" stroke-width="0.9" rx="2.5"/>
<circle cx="1005" cy="119" r="3.6" fill="#ededed" stroke="#c6c6c6" stroke-width="0.8"/>
<rect x="989.7" y="127.7" width="31.8" height="45.3" fill="#fff" stroke="#cfcfcf" stroke-width="0.9" rx="1.5"/>
<rect x="1045.7" y="127.7" width="72.9" height="146.3" class="f"/>
<g stroke="#e2e2e2" stroke-width="0.9" fill="none">
<line x1="1082.2" y1="136" x2="1045.7" y2="274" class=""/>
<line x1="1082.2" y1="136" x2="1118.6" y2="274" class=""/>
<line x1="1082.2" y1="136" x2="1045.7" y2="127.7" class=""/>
<line x1="1082.2" y1="136" x2="1118.6" y2="127.7" class=""/>
</g>
<circle cx="1082.2" cy="136" r="2" fill="#f4f4f4" stroke="#cfcfcf" stroke-width="0.8"/>
<line x1="1046.8" y1="127.7" x2="1046.8" y2="210" class="" stroke="#bdbdbd" stroke-width="1"/>
<rect x="972.8" y="283.6" width="141.2" height="71.1" class="f"/>
<g stroke="#e2e2e2" stroke-width="0.9" fill="none">
<line x1="1105" y1="319.6" x2="972.8" y2="283.6" class=""/>
<line x1="1105" y1="319.6" x2="972.8" y2="354.7" class=""/>
<line x1="1105" y1="319.6" x2="1114" y2="283.6" class=""/>
<line x1="1105" y1="319.6" x2="1114" y2="354.7" class=""/>
</g>
<circle cx="1105" cy="319.6" r="2" fill="#f4f4f4" stroke="#cfcfcf" stroke-width="0.8"/>
<line x1="1032" y1="354" x2="1114" y2="354" class="" stroke="#bdbdbd" stroke-width="1"/>
<rect x="1068.6" y="372.5" width="44.8" height="31.5" fill="#fff" stroke="#cfcfcf" stroke-width="0.9" rx="1.5"/>
<rect x="1116" y="364.6" width="10.2" height="46.4" fill="#e8e8e8" stroke="#d6d6d6" stroke-width="0.8" rx="2.5"/>
<circle cx="1121.3" cy="389" r="3.4" fill="#ececec" stroke="#d2d2d2" stroke-width="0.8"/>
<rect x="1072.5" y="420.4" width="41.3" height="72.9" class="f"/>
<rect x="1077.5" y="434" width="26.8" height="45.5" fill="#fff" stroke="#d4d4d4" stroke-width="0.9" rx="1"/>
<line x1="1095" y1="456.3" x2="1109.5" y2="456.3" class="" stroke="#c4c4c4" stroke-width="1.4"/>
<rect x="443.3" y="653" width="283.1" height="36.7" class="f"/>
<rect x="538.3" y="657.4" width="92.4" height="9.4" fill="#fff" stroke="#c6c6c6" stroke-width="0.9"/>
<line x1="540" y1="662.5" x2="629" y2="662.5" class="ll"/>
<circle cx="565.7" cy="812" r="19.3" class="f"/>
<circle cx="601.2" cy="798" r="34.8" class="f"/>
<rect x="416.3" y="900.7" width="238" height="82.6" class="f"/>
<rect x="425.4" y="827.9" width="73.5" height="72.8" class="f"/>
<rect x="425.4" y="900.7" width="219.4" height="73.1" class="f"/>
<line x1="498.9" y1="900.7" x2="498.9" y2="973.8" class="l"/>
<line x1="571.7" y1="900.7" x2="571.7" y2="973.8" class="l"/>
<circle cx="753.8" cy="805" r="17.4" fill="#fff" stroke="#d4d4d4" stroke-width="1"/>
<circle cx="753.8" cy="805" r="15.4" fill="none" stroke="#dedede" stroke-width="0.8"/>
<circle cx="838.2" cy="805" r="17.4" fill="#fff" stroke="#d4d4d4" stroke-width="1"/>
<circle cx="838.2" cy="805" r="15.4" fill="none" stroke="#dedede" stroke-width="0.8"/>
<circle cx="753.8" cy="890.5" r="17.4" fill="#fff" stroke="#d4d4d4" stroke-width="1"/>
<circle cx="753.8" cy="890.5" r="15.4" fill="none" stroke="#dedede" stroke-width="0.8"/>
<circle cx="838.2" cy="890.5" r="17.4" fill="#fff" stroke="#d4d4d4" stroke-width="1"/>
<circle cx="838.2" cy="890.5" r="15.4" fill="none" stroke="#dedede" stroke-width="0.8"/>
<rect x="741.4" y="792.6" width="109.3" height="110.2" rx="38" fill="#fff" stroke="#d0d0d0" stroke-width="1"/>
<path d="M1008,657.4 L1062,657.4 L1062,987.2 L897.3,987.2 L897.3,932.7 L1008,932.7 Z" fill="#fff" stroke="none"/>
<line x1="1008" y1="657.4" x2="1008" y2="932.7" class="ll"/>
<line x1="897.3" y1="932.7" x2="1008" y2="932.7" class="ll"/>
<line x1="897.3" y1="932.7" x2="897.3" y2="987.2" class="l"/>
<line x1="952.5" y1="932.7" x2="952.5" y2="987.2" class="l"/>
<rect x="1014.8" y="658" width="45" height="55" class="f"/>
<line x1="1008" y1="658" x2="1008" y2="713" class="l"/>
<line x1="1008" y1="658" x2="1014.8" y2="658" class="l"/>
<line x1="1008" y1="713" x2="1014.8" y2="713" class="l"/>
<path d="M1005,698 h-2.5 v6 h2.5" fill="none" stroke="#bdbdbd" stroke-width="0.8"/>
<rect x="1008.8" y="825" width="51" height="50.4" fill="#fcfcfc" stroke="#d2d2d2" stroke-width="0.9"/>
<line x1="1036.5" y1="825" x2="1036.5" y2="875.4" class="ll"/>
<rect x="1004.2" y="826" width="3" height="46" fill="#fff" stroke="#bdbdbd" stroke-width="0.8"/>
<rect x="906" y="929.8" width="39" height="2.9" fill="#f2f2f2" stroke="#d4d4d4" stroke-width="0.7"/>
<rect x="961.3" y="945.7" width="39.7" height="38.7" fill="#fff" stroke="#d0d0d0" stroke-width="0.9" rx="3"/>
<circle cx="981.3" cy="964" r="2.4" fill="none" stroke="#c6c6c6" stroke-width="0.8"/>
<line x1="956" y1="983" x2="973" y2="971.5" class="" stroke="#c9c9c9" stroke-width="2.4" stroke-linecap="round"/>
<line x1="956" y1="983" x2="973" y2="971.5" class="" stroke="#fff" stroke-width="1" stroke-linecap="round"/>
</g>
<g id="openings">
<rect x="497.3" y="223.3" width="9.4" height="160.1" fill="#fff" stroke="#adadad" stroke-width="0.9"/>
<rect x="501.4" y="227.3" width="5.3" height="74.1" fill="#f0f0f0" stroke="#b4b4b4" stroke-width="0.8"/>
<line x1="504" y1="229.3" x2="504" y2="300.4" class="" stroke="#cfcfcf" stroke-width="0.8"/>
<rect x="497.3" y="301.4" width="5.3" height="78" fill="#f0f0f0" stroke="#b4b4b4" stroke-width="0.8"/>
<line x1="500" y1="302.4" x2="500" y2="377.4" class="" stroke="#cfcfcf" stroke-width="0.8"/>
<line x1="497.3" y1="301.4" x2="506.7" y2="301.4" class="" stroke="#adadad" stroke-width="0.9"/>
<rect x="497.3" y="392.7" width="9.4" height="210.9" fill="#fff" stroke="#adadad" stroke-width="0.9"/>
<rect x="501.4" y="396.7" width="5.3" height="101.3" fill="#f0f0f0" stroke="#b4b4b4" stroke-width="0.8"/>
<line x1="504" y1="398.7" x2="504" y2="497" class="" stroke="#cfcfcf" stroke-width="0.8"/>
<rect x="497.3" y="498" width="5.3" height="101.6" fill="#f0f0f0" stroke="#b4b4b4" stroke-width="0.8"/>
<line x1="500" y1="499" x2="500" y2="597.6" class="" stroke="#cfcfcf" stroke-width="0.8"/>
<line x1="497.3" y1="498" x2="506.7" y2="498" class="" stroke="#adadad" stroke-width="0.9"/>
<rect x="396.6" y="648.6" width="9.1" height="228.4" fill="#fff" stroke="#adadad" stroke-width="0.9"/>
<rect x="396.6" y="652.6" width="5.1" height="110.4" fill="#f0f0f0" stroke="#b4b4b4" stroke-width="0.8"/>
<line x1="399.2" y1="654.6" x2="399.2" y2="762" class="" stroke="#cfcfcf" stroke-width="0.8"/>
<rect x="400.5" y="763" width="5.2" height="110" fill="#f0f0f0" stroke="#b4b4b4" stroke-width="0.8"/>
<line x1="403.1" y1="764" x2="403.1" y2="871" class="" stroke="#cfcfcf" stroke-width="0.8"/>
<line x1="396.6" y1="763" x2="405.7" y2="763" class="" stroke="#adadad" stroke-width="0.9"/>
<line x1="371.6" y1="648.6" x2="371.6" y2="877" class="" stroke="#b0b0b0" stroke-width="1"/>
<rect x="751.7" y="996.7" width="136.6" height="17.6" fill="#fff" stroke="none"/>
<line x1="751.4" y1="1014.3" x2="888.3" y2="1014.3" class="" stroke="#b3b3b3" stroke-width="1.3"/>
<rect x="751.7" y="987" width="136.6" height="9.7" fill="#fff" stroke="#adadad" stroke-width="0.9"/>
<rect x="755.7" y="991.5" width="62.3" height="5.2" fill="#ececec" stroke="#b4b4b4" stroke-width="0.8"/>
<line x1="760.7" y1="994.4" x2="817" y2="994.4" class="" stroke="#d0d0d0" stroke-width="1.6"/>
<rect x="822" y="987" width="62.3" height="5.2" fill="#ececec" stroke="#b4b4b4" stroke-width="0.8"/>
<line x1="823" y1="989.6" x2="879.3" y2="989.6" class="" stroke="#d0d0d0" stroke-width="1.6"/>
<line x1="818" y1="987" x2="818" y2="996.7" class="" stroke="#adadad" stroke-width="0.9"/>
<line x1="822" y1="987" x2="822" y2="996.7" class="" stroke="#adadad" stroke-width="0.9"/>
<rect x="1095.6" y="898.5" width="91.8" height="9" fill="#fff" stroke="#adadad" stroke-width="0.9"/>
<rect x="1099.6" y="898.5" width="39.9" height="4.9" fill="#ececec" stroke="#b4b4b4" stroke-width="0.8"/>
<line x1="1104.6" y1="901.1" x2="1138.5" y2="901.1" class="" stroke="#d0d0d0" stroke-width="1.6"/>
<rect x="1143.5" y="902.6" width="39.9" height="4.9" fill="#ececec" stroke="#b4b4b4" stroke-width="0.8"/>
<line x1="1144.5" y1="905.5" x2="1178.4" y2="905.5" class="" stroke="#d0d0d0" stroke-width="1.6"/>
<line x1="1139.5" y1="898.5" x2="1139.5" y2="907.5" class="" stroke="#adadad" stroke-width="0.9"/>
<line x1="1143.5" y1="898.5" x2="1143.5" y2="907.5" class="" stroke="#adadad" stroke-width="0.9"/>
<rect x="872.3" y="274" width="9.1" height="9.4" class="j"/>
<line x1="876.8" y1="274" x2="876.8" y2="283.4" class="" stroke="#b5b5b5" stroke-width="0.8"/>
<rect x="953.8" y="274" width="9.2" height="9.6" class="j"/>
<line x1="958.4" y1="274" x2="958.4" y2="283.6" class="" stroke="#b5b5b5" stroke-width="0.8"/>
<path d="M881.4,200.8 A73.2,73.2 0 0 1 954.6,274" class="d"/>
<rect x="881.4" y="200.6" width="4.8" height="73.4" class="dl"/>
<rect x="872.3" y="383.3" width="8.7" height="9.4" class="j"/>
<line x1="876.6" y1="383.3" x2="876.6" y2="392.7" class="" stroke="#b5b5b5" stroke-width="0.8"/>
<rect x="953.8" y="383.3" width="9.2" height="9.4" class="j"/>
<line x1="958.4" y1="383.3" x2="958.4" y2="392.7" class="" stroke="#b5b5b5" stroke-width="0.8"/>
<path d="M953.8,310.2 A73.4,73.4 0 0 0 880.4,383.6" class="d"/>
<rect x="949.2" y="310" width="4.6" height="73.6" class="dl"/>
<rect x="862.7" y="392.7" width="9.6" height="9" class="j"/>
<line x1="862.7" y1="397.2" x2="872.3" y2="397.2" class="" stroke="#b5b5b5" stroke-width="0.8"/>
<rect x="862.7" y="475" width="9.6" height="9.3" class="j"/>
<line x1="862.7" y1="479.6" x2="872.3" y2="479.6" class="" stroke="#b5b5b5" stroke-width="0.8"/>
<path d="M789.3,401.7 A73.4,73.4 0 0 0 862.7,475.1" class="d"/>
<rect x="789.3" y="401.7" width="73.4" height="4.5" class="dl"/>
<rect x="963" y="402" width="9.8" height="9" class="j"/>
<line x1="963" y1="406.5" x2="972.8" y2="406.5" class="" stroke="#b5b5b5" stroke-width="0.8"/>
<rect x="963" y="484.3" width="9.8" height="9" class="j"/>
<line x1="963" y1="488.8" x2="972.8" y2="488.8" class="" stroke="#b5b5b5" stroke-width="0.8"/>
<path d="M1045.8,484 A73.2,73.2 0 0 0 972.6,410.8" class="d"/>
<rect x="972.6" y="479.2" width="73.2" height="4.8" class="dl"/>
<rect x="1071.4" y="607.5" width="9.2" height="8.8" class="j"/>
<line x1="1076" y1="607.5" x2="1076" y2="616.3" class="" stroke="#b5b5b5" stroke-width="0.8"/>
<rect x="1153.8" y="607" width="9.2" height="9.5" class="j"/>
<line x1="1158.4" y1="607" x2="1158.4" y2="616.5" class="" stroke="#b5b5b5" stroke-width="0.8"/>
<path d="M1080.6,689.9 A73.4,73.4 0 0 0 1154,616.5" class="d"/>
<rect x="1071.9" y="616.3" width="13.4" height="73.7" class="dl"/>
<line x1="1080.3" y1="616.3" x2="1080.3" y2="690" class="" stroke="#a9a9a9" stroke-width="0.9"/>
<rect x="1142" y="159.4" width="8.4" height="9.1" class="j"/>
<line x1="1146.2" y1="159.4" x2="1146.2" y2="168.5" class="" stroke="#b5b5b5" stroke-width="0.8"/>
<rect x="1232.7" y="159.4" width="8.5" height="9.1" class="j"/>
<line x1="1237" y1="159.4" x2="1237" y2="168.5" class="" stroke="#b5b5b5" stroke-width="0.8"/>
<path d="M1150.4,168.5 A82.3,82.3 0 0 0 1232.7,250.8" fill="none" stroke="#9c9c9c" stroke-width="1.1"/>
<line x1="1232.7" y1="168.5" x2="1232.7" y2="250.8" class="" stroke="#9c9c9c" stroke-width="1.1"/>
<g stroke="#ececec" stroke-width="0.9">
<line x1="1148" y1="141" x2="1148" y2="159" class=""/>
<line x1="1153.2" y1="141" x2="1153.2" y2="159" class=""/>
<line x1="1158.4" y1="141" x2="1158.4" y2="159" class=""/>
<line x1="1163.6" y1="141" x2="1163.6" y2="159" class=""/>
<line x1="1168.8" y1="141" x2="1168.8" y2="159" class=""/>
<line x1="1174" y1="141" x2="1174" y2="159" class=""/>
<line x1="1179.2" y1="141" x2="1179.2" y2="159" class=""/>
<line x1="1184.4" y1="141" x2="1184.4" y2="159" class=""/>
<line x1="1189.6" y1="141" x2="1189.6" y2="159" class=""/>
<line x1="1194.8" y1="141" x2="1194.8" y2="159" class=""/>
<line x1="1200" y1="141" x2="1200" y2="159" class=""/>
<line x1="1205.2" y1="141" x2="1205.2" y2="159" class=""/>
<line x1="1210.4" y1="141" x2="1210.4" y2="159" class=""/>
<line x1="1215.6" y1="141" x2="1215.6" y2="159" class=""/>
<line x1="1220.8" y1="141" x2="1220.8" y2="159" class=""/>
<line x1="1226" y1="141" x2="1226" y2="159" class=""/>
<line x1="1231.2" y1="141" x2="1231.2" y2="159" class=""/>
<line x1="1236.4" y1="141" x2="1236.4" y2="159" class=""/>
</g>
<line x1="1150.4" y1="159.6" x2="1232.7" y2="159.6" class="" stroke="#e6e0dc" stroke-width="1"/>
<polygon points="1167.6,115.2 1215.8,115.2 1191.7,139.6" fill="#44798e"/>
</g>
<g id="nums">
<circle cx="1186.4" cy="313.6" r="25.2" class="nc"/>
<text x="1186.4" y="324.8" class="num">1</text>
<circle cx="835.7" cy="721.3" r="25.2" class="nc"/>
<text x="835.7" y="732.5" class="num">2</text>
<circle cx="974" cy="555.8" r="25.2" class="nc"/>
<text x="974" y="567" class="num">3</text>
<circle cx="768.3" cy="331" r="25.2" class="nc"/>
<text x="768.3" y="342.2" class="num">4</text>
<circle cx="549.3" cy="514.3" r="25.2" class="nc"/>
<text x="549.3" y="525.5" class="num">5</text>
<circle cx="1134.3" cy="794.5" r="25.2" class="nc"/>
<text x="1134.3" y="805.7" class="num">6</text>
<circle cx="975.4" cy="214" r="25.2" class="nc"/>
<text x="975.4" y="225.2" class="num">7</text>
<circle cx="1034" cy="401.6" r="25.2" class="nc"/>
<text x="1034" y="412.8" class="num">8</text>
<circle cx="355" cy="529.3" r="25.2" class="nc"/>
<text x="355" y="540.5" class="num">9</text>
<rect x="1178.5" y="321.8" width="7.6" height="3.8" fill="#f9f6f4"/>
<rect x="1189" y="321.8" width="7" height="3.8" fill="#f9f6f4"/>
</g>
<g id="table">
<rect x="1347.2" y="331.7" width="506.6" height="38.7" fill="#fff" stroke="#dddddd" stroke-width="1.2"/>
<text x="1601" y="357.7" font-size="17.6" font-weight="bold" fill="#111" text-anchor="middle" textLength="117" lengthAdjust="spacingAndGlyphs">VIVIENDA 2D</text>
<line x1="1347" y1="399.4" x2="1854" y2="399.4" class="" stroke="#e2e2e2" stroke-width="1.1"/>
<line x1="1347" y1="429.3" x2="1854" y2="429.3" class="" stroke="#e2e2e2" stroke-width="1.1"/>
<text x="1354.1" y="421.2" class="tb" textLength="252.3" lengthAdjust="spacingAndGlyphs">SUPERFICIES ÚTILES / FLOOR AREA</text>
<text x="1351.7" y="446.5" class="tg" textLength="131" lengthAdjust="spacingAndGlyphs">1. Vestíbulo / Hall</text>
<text x="1809.6" y="447.1" class="tg" text-anchor="end">7.83</text>
<text x="1829" y="446.5" class="tg" textLength="20.5" lengthAdjust="spacingAndGlyphs">m²</text>
<text x="1351.7" y="470.9" class="tg" textLength="376" lengthAdjust="spacingAndGlyphs">2. Salón comedor cocina / Living dinning kitchen</text>
<text x="1809.6" y="471.5" class="tg" text-anchor="end">27.50</text>
<text x="1829" y="470.9" class="tg" textLength="20.5" lengthAdjust="spacingAndGlyphs">m²</text>
<text x="1351.7" y="495.4" class="tg" textLength="146" lengthAdjust="spacingAndGlyphs">3. Distribuidor / Hall</text>
<text x="1809.6" y="496" class="tg" text-anchor="end">4.43</text>
<text x="1829" y="495.4" class="tg" textLength="20.5" lengthAdjust="spacingAndGlyphs">m²</text>
<text x="1351.7" y="519.8" class="tg" textLength="208.5" lengthAdjust="spacingAndGlyphs">4. Dormitorio 1 / Bedroom 1</text>
<text x="1809.6" y="520.4" class="tg" text-anchor="end">12.13</text>
<text x="1829" y="519.8" class="tg" textLength="20.5" lengthAdjust="spacingAndGlyphs">m²</text>
<text x="1351.7" y="544.2" class="tg" textLength="210" lengthAdjust="spacingAndGlyphs">5. Dormitorio 2 / Bedroom 2</text>
<text x="1809.6" y="544.8" class="tg" text-anchor="end">10.53</text>
<text x="1829" y="544.2" class="tg" textLength="20.5" lengthAdjust="spacingAndGlyphs">m²</text>
<text x="1351.7" y="568.6" class="tg" textLength="209.5" lengthAdjust="spacingAndGlyphs">6. Dormitorio 3 / Bedroom 3</text>
<text x="1809.6" y="569.2" class="tg" text-anchor="end">7.07</text>
<text x="1829" y="568.6" class="tg" textLength="20.5" lengthAdjust="spacingAndGlyphs">m²</text>
<text x="1351.7" y="593.1" class="tg" textLength="173.5" lengthAdjust="spacingAndGlyphs">7. Baño 1 / Bathroom 1</text>
<text x="1809.6" y="593.7" class="tg" text-anchor="end">4.32</text>
<text x="1829" y="593.1" class="tg" textLength="20.5" lengthAdjust="spacingAndGlyphs">m²</text>
<text x="1351.7" y="617.5" class="tg" textLength="175.5" lengthAdjust="spacingAndGlyphs">8. Baño 2 / Bathroom 2</text>
<text x="1809.6" y="618.1" class="tg" text-anchor="end">3.56</text>
<text x="1829" y="617.5" class="tg" textLength="20.5" lengthAdjust="spacingAndGlyphs">m²</text>
<text x="1351.7" y="666.8" class="tg" textLength="146.5" lengthAdjust="spacingAndGlyphs">9. Terraza / Terrace</text>
<text x="1809.6" y="667.4" class="tg" text-anchor="end">30.64</text>
<text x="1829" y="666.8" class="tg" textLength="20.5" lengthAdjust="spacingAndGlyphs">m²</text>
<text x="1351.7" y="691.6" class="tg" textLength="89" lengthAdjust="spacingAndGlyphs">10. Solarium</text>
<text x="1809.6" y="692.2" class="tg" text-anchor="end">114.42</text>
<text x="1829" y="691.6" class="tg" textLength="20.5" lengthAdjust="spacingAndGlyphs">m²</text>
<line x1="1742.3" y1="722.7" x2="1854" y2="722.7" class="" stroke="#c9c9c9" stroke-width="1.1"/>
<text x="1354.1" y="743.9" class="tb" textLength="280" lengthAdjust="spacingAndGlyphs">TOTAL SUP. ÚTIL / TOTAL FLOOR AREA</text>
<text x="1806.6" y="744.3" class="tb" text-anchor="end">77.37</text>
<text x="1827.5" y="743.9" class="tb" textLength="19.5" lengthAdjust="spacingAndGlyphs">m²</text>
<line x1="1347" y1="781.6" x2="1854" y2="781.6" class="" stroke="#e2e2e2" stroke-width="1.1"/>
<text x="1351.7" y="798.8" class="tb" textLength="301.5" lengthAdjust="spacingAndGlyphs">SUPERFICIES CONSTRUIDAS / BUILT AREA</text>
<line x1="1347" y1="804.9" x2="1854" y2="804.9" class="" stroke="#e2e2e2" stroke-width="1.1"/>
<line x1="1742.3" y1="804.9" x2="1854" y2="804.9" class="" stroke="#cfcfcf" stroke-width="1.1"/>
<text x="1351.7" y="821.8" class="tg" textLength="333.5" lengthAdjust="spacingAndGlyphs">Sup. construida cerrada / Closed built area</text>
<text x="1810" y="822.4" class="tb" text-anchor="end">91.91</text>
<text x="1829" y="821.8" class="tg" textLength="20.5" lengthAdjust="spacingAndGlyphs">m²</text>
<text x="1351.7" y="847.2" class="tg" textLength="270" lengthAdjust="spacingAndGlyphs">Terraza cubierta / Covered terrace</text>
<text x="1809.6" y="847.8" class="tb" text-anchor="end">30.64</text>
<text x="1829" y="847.2" class="tg" textLength="20.5" lengthAdjust="spacingAndGlyphs">m²</text>
<text x="1351.7" y="903.4" class="tb" textLength="341.3" lengthAdjust="spacingAndGlyphs">TOTAL SUP. CONSTRUIDA /  TOTAL BUILT AREA</text>
<text x="1806.6" y="903.8" class="tb" text-anchor="end">122.54</text>
<text x="1827.5" y="903.4" class="tb" textLength="19.5" lengthAdjust="spacingAndGlyphs">m²</text>
</g>
<g id="labels">
<text x="648.5" y="1155" font-size="19.5" fill="#55808f" stroke="#fff" stroke-width="0.25" textLength="247.5" lengthAdjust="spacingAndGlyphs">Planta Segunda + Solarium</text>
<text x="648.5" y="1178.5" font-size="19.5" fill="#979797" stroke="#fff" stroke-width="0.25" textLength="221.5" lengthAdjust="spacingAndGlyphs">Second Floor + Solarium</text>
<text x="825.3" y="648.7" font-size="27.2" fill="#ffffff" fill-opacity="0.85" stroke="#fff" stroke-opacity="0.8" stroke-width="0.6" textLength="271" lengthAdjust="spacing">www.immo-toro.com</text>
</g>
<g id="keyplan">
<rect x="68.6" y="1045.2" width="558" height="228.7" fill="#fff" stroke="#dde0e0" stroke-width="1.4"/>
<path d="M109.4,1205.6 L122.8,1205.6 L122.8,1198.8 L267.5,1198.8 L267.5,1256.6 L109.4,1256.6 Z" fill="#e4e4e4"/>
<rect x="126.6" y="1201.2" width="129.1" height="25" fill="#fff"/>
<path d="M122.8,1201.2 L122.8,1227.5 L255.6,1227.5 L255.6,1201.2" fill="#fff" stroke="none"/>
<rect x="122.8" y="1198.8" width="116.2" height="2.8" fill="#fff"/>
<path d="M122.8,1076.9 L122.8,1227.5 L256.6,1227.5 L256.6,1200.3 L239.1,1200.3" fill="none" stroke="#c2c2c2" stroke-width="0.9"/>
<rect x="126.6" y="1201.2" width="126.9" height="24.4" fill="#fff" stroke="#c6c6c6" stroke-width="0.8"/>
<rect x="122.8" y="1076.9" width="69.7" height="10" fill="none" stroke="#dcdcdc" stroke-width="0.9"/>
<path d="M126.6,1138.8 L126.6,1195.6" fill="none" stroke="#c2c2c2" stroke-width="0.9"/>
<path d="M207.2,1138.8 L207.2,1195.6" fill="none" stroke="#c2c2c2" stroke-width="0.9"/>
<rect x="207.2" y="1152.5" width="25" height="11.2" fill="#fff" stroke="#c6c6c6" stroke-width="0.8"/>
<path d="M126.6,1163.8 L234.4,1163.8 L234.4,1167.5 L126.6,1167.5 Z" fill="#fff" stroke="#c6c6c6" stroke-width="0.8"/>
<rect x="207.2" y="1185.3" width="25" height="10.3" fill="#fff" stroke="#c6c6c6" stroke-width="0.8"/>
<path d="M126.6,1195.6 L232.2,1195.6 L232.2,1190.9 L239.1,1190.9 L239.1,1201.2 L204.1,1201.2 L204.1,1198.8 L126.6,1198.8 Z" fill="#fff" stroke="#c6c6c6" stroke-width="0.8"/>
<path d="M126.6,1096.2 L175,1096.2 L175,1086.9 L202.5,1086.9 L202.5,1096.2 L232.8,1096.2 L232.8,1105 L235.3,1105 L235.3,1110.6 L207.2,1110.6 L207.2,1123.8 L232.8,1123.8 L232.8,1133.1 L235.3,1133.1 L235.3,1138.8 L126.6,1138.8 Z" fill="#8aabb9"/>
<path d="M126.6,1105 L232.8,1105" fill="none" stroke="#6c8d9b" stroke-width="0.7"/>
<path d="M175,1096.2 L175,1105" fill="none" stroke="#6c8d9b" stroke-width="0.7"/>
<path d="M202.5,1096.2 L202.5,1105" fill="none" stroke="#6c8d9b" stroke-width="0.7"/>
<path d="M207.2,1110.6 L207.2,1138.8" fill="none" stroke="#6c8d9b" stroke-width="0.7"/>
<path d="M207.2,1133.1 L232.8,1133.1" fill="none" stroke="#6c8d9b" stroke-width="0.7"/>
<text x="108.1" y="1105.9" font-size="9.6" fill="#a4a4a4" text-anchor="end">ÁT.</text>
<text x="108.1" y="1135.6" font-size="9.6" fill="#a4a4a4" text-anchor="end">P2</text>
<text x="108.1" y="1163.8" font-size="9.6" fill="#a4a4a4" text-anchor="end">P1</text>
<text x="108.1" y="1196.6" font-size="9.6" fill="#a4a4a4" text-anchor="end">PB</text>
<text x="108.1" y="1225.3" font-size="9.6" fill="#a4a4a4" text-anchor="end">SÓT.</text>
<path d="M380,1067.5 L604.1,1067.5 L604.1,1173.8" fill="none" stroke="#dcdcdc" stroke-width="0.9"/>
<path d="M380,1070.6 L600.9,1070.6" fill="none" stroke="#e6e6e6" stroke-width="0.8"/>
<path d="M304.1,1179.4 L304.1,1237.8 L321.2,1255 L480.6,1255" fill="none" stroke="#dcdcdc" stroke-width="0.9"/>
<path d="M306.6,1179.4 L306.6,1236.9 L322.5,1252.5 L480.6,1252.5" fill="none" stroke="#e6e6e6" stroke-width="0.8"/>
<rect x="327.5" y="1197.2" width="106.9" height="48.4" fill="none" stroke="#dcdcdc" stroke-width="0.9"/>
<rect x="330.6" y="1200.3" width="100.6" height="42.2" fill="none" stroke="#dcdcdc" stroke-width="0.9"/>
<path d="M330.6,1215.3 L406.2,1215.3" fill="none" stroke="#dcdcdc" stroke-width="0.9"/>
<rect x="406.2" y="1200.3" width="25" height="15" fill="none" stroke="#dcdcdc" stroke-width="0.9"/>
<path d="M406.2,1202.8 L431.2,1202.8" fill="none" stroke="#d0d0d0" stroke-width="0.7"/>
<path d="M406.2,1205.3 L431.2,1205.3" fill="none" stroke="#d0d0d0" stroke-width="0.7"/>
<path d="M406.2,1207.8 L431.2,1207.8" fill="none" stroke="#d0d0d0" stroke-width="0.7"/>
<path d="M406.2,1210.3 L431.2,1210.3" fill="none" stroke="#d0d0d0" stroke-width="0.7"/>
<path d="M406.2,1212.8 L431.2,1212.8" fill="none" stroke="#d0d0d0" stroke-width="0.7"/>
<path d="M460.3,1179.4 L460.3,1252.5" fill="none" stroke="#dcdcdc" stroke-width="0.9"/>
<path d="M480.6,1179.4 L480.6,1252.5" fill="none" stroke="#dcdcdc" stroke-width="0.9"/>
<path d="M460.3,1187.8 L480.6,1187.8" fill="none" stroke="#dcdcdc" stroke-width="0.9"/>
<path d="M460.3,1203.4 L480.6,1203.4" fill="none" stroke="#dcdcdc" stroke-width="0.9"/>
<path d="M460.3,1243.1 L480.6,1243.1" fill="none" stroke="#dcdcdc" stroke-width="0.9"/>
<rect x="583.8" y="1070.6" width="17.2" height="16.6" fill="none" stroke="#dcdcdc" stroke-width="0.9"/>
<path d="M583.8,1070.6 L600.9,1087.2" fill="none" stroke="#dcdcdc" stroke-width="0.9"/>
<path d="M600.9,1070.6 L583.8,1087.2" fill="none" stroke="#dcdcdc" stroke-width="0.9"/>
<rect x="581.2" y="1100.3" width="19.7" height="31.2" fill="none" stroke="#dcdcdc" stroke-width="0.9"/>
<path d="M582.5,1102.8 L599.7,1102.8" fill="none" stroke="#dadada" stroke-width="0.6"/>
<path d="M582.5,1106.1 L599.7,1106.1" fill="none" stroke="#dadada" stroke-width="0.6"/>
<path d="M582.5,1109.4 L599.7,1109.4" fill="none" stroke="#dadada" stroke-width="0.6"/>
<path d="M582.5,1112.7 L599.7,1112.7" fill="none" stroke="#dadada" stroke-width="0.6"/>
<path d="M582.5,1115.9 L599.7,1115.9" fill="none" stroke="#dadada" stroke-width="0.6"/>
<path d="M582.5,1119.2 L599.7,1119.2" fill="none" stroke="#dadada" stroke-width="0.6"/>
<path d="M582.5,1122.5 L599.7,1122.5" fill="none" stroke="#dadada" stroke-width="0.6"/>
<path d="M582.5,1125.8 L599.7,1125.8" fill="none" stroke="#dadada" stroke-width="0.6"/>
<path d="M582.5,1129.1 L599.7,1129.1" fill="none" stroke="#dadada" stroke-width="0.6"/>
<path d="M590.9,1100.3 L590.9,1131.6" fill="none" stroke="#dcdcdc" stroke-width="0.9"/>
<rect x="581.2" y="1136.9" width="19.7" height="18.8" fill="none" stroke="#c9c9c9" stroke-width="0.9"/>
<path d="M581.2,1136.9 L600.9,1155.6" fill="none" stroke="#dcdcdc" stroke-width="0.9"/>
<path d="M600.9,1136.9 L581.2,1155.6" fill="none" stroke="#dcdcdc" stroke-width="0.9"/>
<path d="M565,1169.1 L565,1085.6 L380,1085.6 L380,1067.5 L301.9,1067.5 L301.9,1087.8 L293.8,1087.8 L293.8,1179.4 L494.7,1179.4" fill="none" stroke="#9a9a9a" stroke-width="0.9"/>
<path d="M380,1085.6 L380,1179.4" fill="none" stroke="#9a9a9a" stroke-width="0.9"/>
<path d="M460.3,1085.6 L460.3,1179.4" fill="none" stroke="#9a9a9a" stroke-width="0.9"/>
<path d="M293.8,1158.8 L333.1,1158.8 L333.1,1151.9 L377.5,1151.9 L377.5,1158.8 L382.2,1158.8 L382.2,1151.9 L425,1151.9 L425,1158.8 L460.3,1158.8 L463.4,1158.8 L463.4,1152.5 L531.2,1152.5 L531.2,1169.1" fill="none" stroke="#9a9a9a" stroke-width="0.9"/>
<path d="M494.7,1177.5 L520.3,1177.5 L520.3,1168.1 L586.2,1168.1 L586.2,1173.1 L604.1,1173.1 L604.1,1251.2 L582.2,1251.2 L582.2,1258.8 L480.6,1258.8 Z" fill="#8aabb9" stroke="#7f9fad" stroke-width="0.8"/>
<path d="M520.3,1177.5 L520.3,1217.5 L510.3,1217.5 L510.3,1258.8" fill="none" stroke="#5d7d8b" stroke-width="0.9"/>
</g>
</g></svg></body></html>
